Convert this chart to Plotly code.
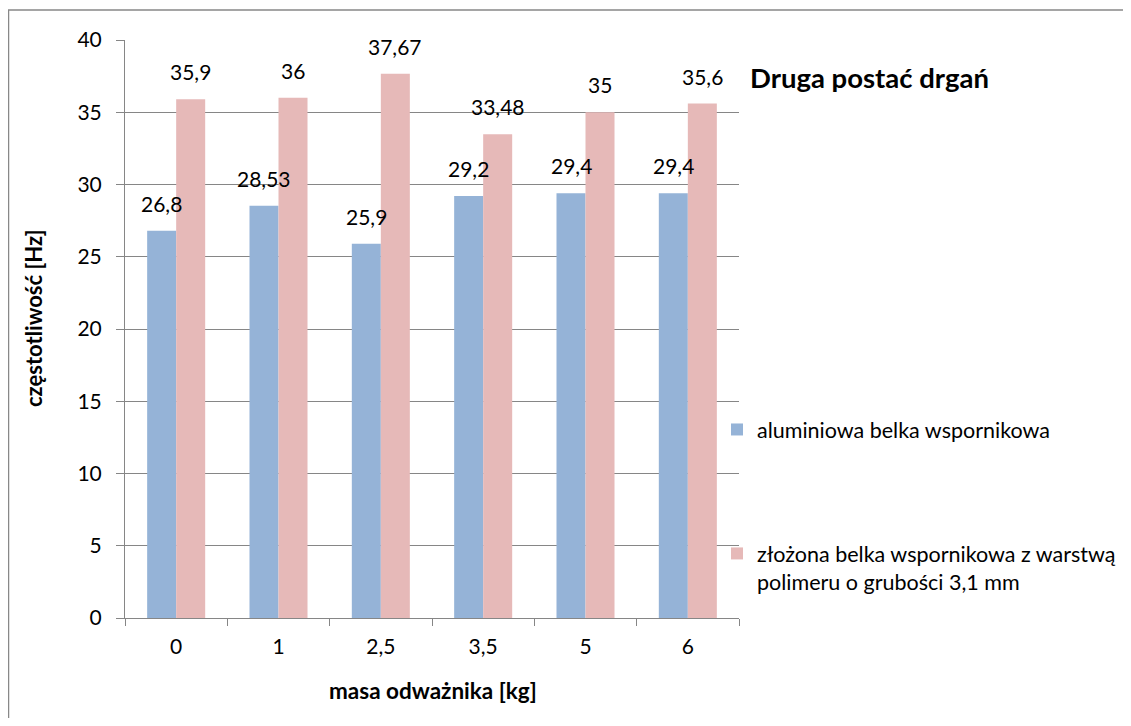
import plotly.graph_objects as go

categories = ["0", "1", "2,5", "3,5", "5", "6"]
aluminium = [26.8, 28.53, 25.9, 29.2, 29.4, 29.4]
composite = [35.9, 36, 37.67, 33.48, 35, 35.6]
aluminium_labels = ["26,8", "28,53", "25,9", "29,2", "29,4", "29,4"]
composite_labels = ["35,9", "36", "37,67", "33,48", "35", "35,6"]
y_ticks = [0, 5, 10, 15, 20, 25, 30, 35, 40]

series_names = [
    "aluminiowa belka wspornikowa",
    "złożona belka wspornikowa z warstwą<br>polimeru o grubości 3,1 mm",
]
colors = ["#95B3D7", "#E6B9B8"]

FONT = "Lato"
GRID = "#868686"

# page body has an 8px margin; work in figure coordinates
OFF = 8
W, H = 1131 - 2 * OFF, 726 - 2 * OFF
PL, PR, PT, PB = 125 - OFF, 739 - OFF, 40 - OFF, 618 - OFF
PW, PH = PR - PL, PB - PT

def px(xv):
    return (xv - OFF - PL) / PW

def py(yv):
    return (PB - (yv - OFF)) / PH

pos = list(range(len(categories)))

fig = go.Figure()
fig.add_trace(go.Bar(x=pos, y=aluminium, name=series_names[0],
                     marker=dict(color=colors[0], line=dict(width=0)),
                     legendgroup="a"))
fig.add_trace(go.Bar(x=pos, y=composite, name=series_names[1],
                     marker=dict(color=colors[1], line=dict(width=0)),
                     legendgroup="b"))

half_bar = 14.5
for p, v, lab in zip(pos, aluminium, aluminium_labels):
    fig.add_annotation(x=p, y=v, text=lab, showarrow=False, xshift=-half_bar,
                       yanchor="bottom", yshift=13, font=dict(family=FONT, size=21, color="#000"))
for p, v, lab in zip(pos, composite, composite_labels):
    fig.add_annotation(x=p, y=v, text=lab, showarrow=False, xshift=half_bar,
                       yanchor="bottom", yshift=13, font=dict(family=FONT, size=21, color="#000"))

# axis titles
fig.add_annotation(text="<b>częstotliwość [Hz]</b>", textangle=-90, showarrow=False,
                   xref="paper", yref="paper", x=px(33), y=py(318),
                   xanchor="center", yanchor="middle", font=dict(family=FONT, size=22, color="#000"))
fig.add_annotation(text="<b>masa odważnika [kg]</b>", showarrow=False,
                   xref="paper", yref="paper", x=px(433), y=py(690),
                   xanchor="center", yanchor="middle", font=dict(family=FONT, size=22.5, color="#000"))

# chart border (top & left visible)
fig.add_shape(type="rect", xref="paper", yref="paper",
              x0=px(8.5), x1=2.0, y0=-1.0, y1=py(10),
              line=dict(color="#888888", width=1.5), fillcolor="rgba(0,0,0,0)", layer="below")

fig.update_layout(
    width=W, height=H,
    margin=dict(l=PL, r=W - PR, t=PT, b=H - PB, pad=0, autoexpand=False),
    paper_bgcolor="white", plot_bgcolor="white",
    barmode="group", bargap=0.433, bargroupgap=0,
    font=dict(family=FONT, size=21, color="#000"),
    title=dict(text="<b>Druga postać drgań</b>", x=(750 - OFF) / W, xanchor="left",
               y=1 - (78 - OFF) / H, yanchor="middle", xref="container", yref="container",
               font=dict(family=FONT, size=27.5, color="#000")),
    legend=dict(xref="container", yref="container",
                x=(717 - OFF) / W, xanchor="left", y=1 - (409 - OFF) / H, yanchor="top",
                font=dict(family=FONT, size=21.5, color="#000"), tracegroupgap=93,
                valign="top", itemwidth=30, bgcolor="rgba(0,0,0,0)", traceorder="grouped"),
    showlegend=True,
)
fig.update_xaxes(range=[-0.5, len(categories) - 0.5], tickmode="array", tickvals=pos,
                 ticktext=categories, showline=True, linecolor=GRID, linewidth=1,
                 ticks="", showgrid=False, zeroline=False, ticklabelstandoff=10,
                 minor=dict(ticks="outside", tick0=-0.5, dtick=1, ticklen=7, tickcolor=GRID,
                            tickwidth=1, showgrid=False),
                 tickfont=dict(family=FONT, size=21, color="#000"))
fig.update_yaxes(range=[0, 40], tickvals=y_ticks, showline=True, linecolor=GRID, linewidth=1,
                 ticks="outside", ticklen=8, tickcolor=GRID, showgrid=True, gridcolor=GRID,
                 gridwidth=1, zeroline=False, ticklabelstandoff=10,
                 tickfont=dict(family=FONT, size=21, color="#000"))

fig.write_html("out.html")
